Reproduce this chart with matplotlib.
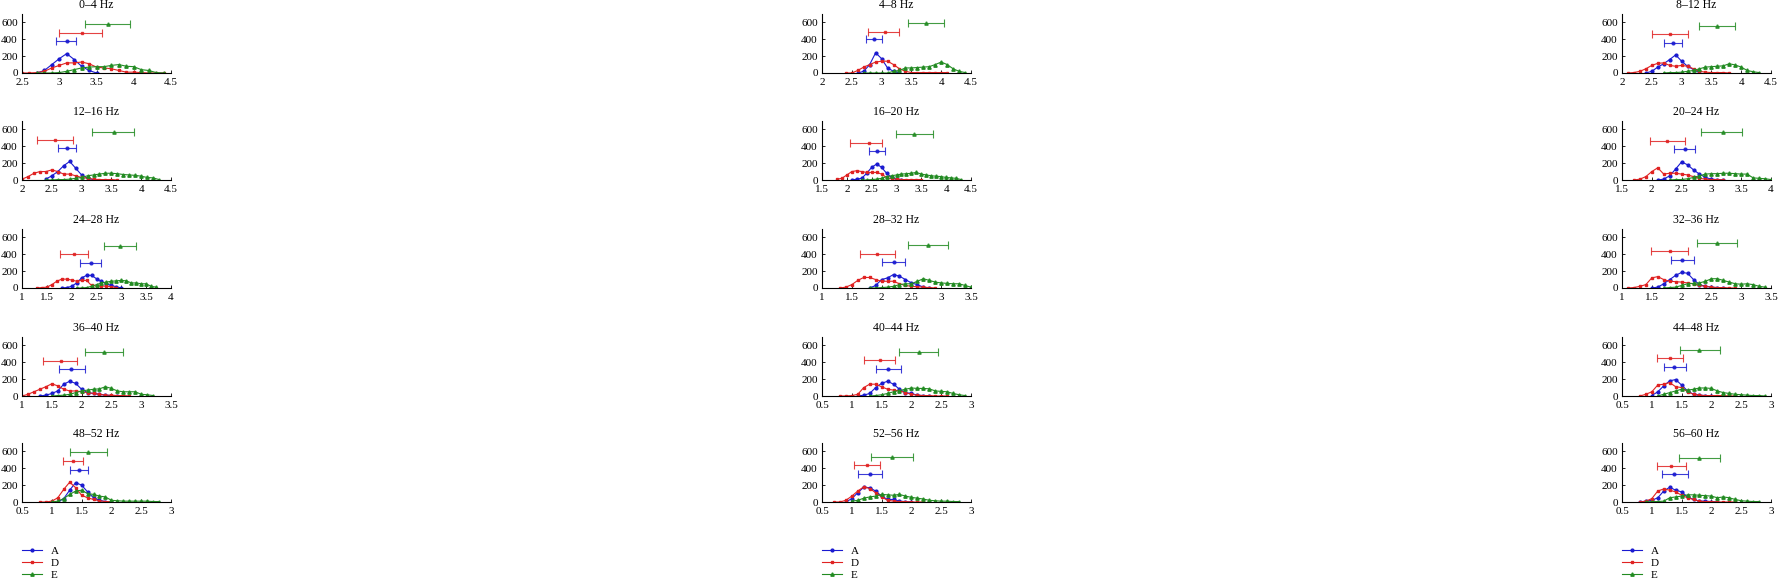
import numpy as np
from matplotlib import pyplot as plt

plt.rcParams['font.family'] = ['Liberation Serif', 'DejaVu Serif']
plt.rcParams['font.size'] = 8

# titre de chaque panneau (bande de frequence)
titres = ['0–4 Hz', '4–8 Hz', '8–12 Hz', '12–16 Hz', '16–20 Hz', '20–24 Hz',
          '24–28 Hz', '28–32 Hz', '32–36 Hz', '36–40 Hz', '40–44 Hz', '44–48 Hz',
          '48–52 Hz', '52–56 Hz', '56–60 Hz']
bornes_x = [(2.5, 4.5), (2, 4.5), (2, 4.5), (2, 4.5), (1.5, 4.5), (1.5, 4),
            (1, 4), (1, 3.5), (1, 3.5), (1, 3.5), (0.5, 3), (0.5, 3),
            (0.5, 3), (0.5, 3), (0.5, 3)]

# courbes : premier x (pas de 0.1) puis les valeurs
debut_A = [2.7, 2.6, 2.4, 2.4, 2.1, 2.1, 1.8, 1.8, 1.5, 1.3, 1.1, 1.0, 1.1, 0.9, 0.8]
val_A = [
    [0, 30, 100, 170, 230, 160, 80, 30, 0],
    [0, 20, 100, 240, 170, 60, 20, 0],
    [0, 20, 70, 110, 160, 215, 140, 80, 40, 5],
    [10, 50, 100, 170, 220, 140, 60, 20, 5],
    [0, 10, 20, 80, 150, 190, 150, 80, 30, 10, 0],
    [0, 10, 50, 130, 215, 180, 120, 70, 30, 10, 5, 0],
    [0, 5, 20, 60, 120, 150, 150, 110, 80, 50, 30, 15, 0],
    [0, 30, 100, 120, 160, 140, 100, 60, 40, 10, 0],
    [0, 10, 50, 100, 150, 185, 175, 100, 40, 20, 10, 5, 0],
    [0, 10, 30, 60, 140, 175, 150, 80, 40, 30, 20, 10, 5, 0],
    [0, 10, 30, 100, 150, 175, 140, 80, 40, 30, 10, 5, 0],
    [5, 50, 120, 180, 195, 130, 60, 20, 10, 5, 0],
    [0, 40, 140, 230, 200, 120, 50, 20, 5, 0],
    [0, 40, 110, 175, 170, 130, 70, 30, 30, 10, 5, 0],
    [0, 10, 20, 50, 130, 175, 140, 120, 60, 30, 10, 10, 5, 0],
]
debut_D = [2.5, 2.4, 2.1, 2.0, 1.8, 1.7, 1.3, 1.3, 1.1, 1.0, 0.8, 0.8, 0.8, 0.7, 0.8]
val_D = [
    [0, 0, 5, 20, 60, 90, 120, 120, 130, 110, 70, 60, 50, 30, 10, 10, 5, 0, 0, 0],
    [0, 0, 30, 70, 100, 130, 140, 140, 100, 50, 20, 5, 5, 5, 5, 5, 5, 5],
    [0, 5, 20, 50, 90, 115, 120, 90, 80, 90, 80, 50, 20, 10, 5, 5, 5, 0],
    [10, 40, 80, 100, 100, 120, 100, 70, 70, 50, 30, 20, 10, 5, 5, 5, 0],
    [10, 20, 60, 100, 110, 100, 90, 90, 90, 70, 30, 15, 10, 5, 5, 5, 5, 5],
    [0, 10, 40, 100, 145, 70, 80, 80, 70, 60, 40, 20, 10, 5, 5, 0],
    [0, 5, 10, 40, 80, 105, 105, 95, 80, 90, 90, 30, 25, 25, 20, 15, 5],
    [0, 10, 40, 90, 125, 125, 100, 80, 80, 80, 50, 30, 20, 15, 10, 5, 0],
    [0, 5, 20, 40, 120, 135, 100, 80, 75, 70, 60, 50, 30, 20, 10, 5, 5, 0, 0],
    [0, 20, 50, 80, 110, 145, 120, 80, 60, 60, 50, 40, 30, 20, 10, 10, 5, 5, 0],
    [0, 0, 5, 20, 100, 140, 140, 110, 80, 70, 60, 40, 20, 10, 5, 5, 0, 0, 0],
    [0, 20, 50, 130, 140, 160, 110, 100, 50, 20, 10, 5, 5, 5, 5, 0, 0],
    [0, 0, 10, 50, 150, 235, 170, 80, 50, 30, 15, 5, 5],
    [0, 0, 20, 70, 130, 180, 160, 110, 60, 20, 10, 5, 5, 0, 0, 0],
    [0, 10, 40, 130, 155, 140, 120, 80, 50, 30, 10, 5, 5, 0, 0, 0, 0],
]
debut_E = [2.7, 2.7, 2.7, 2.4, 2.3, 2.3, 2.1, 1.8, 1.7, 1.5, 1.3, 1.1, 1.0, 1.0, 0.9]
val_E = [
    [0, 0, 0, 5, 20, 40, 60, 70, 75, 75, 90, 100, 80, 75, 40, 30, 5, 0],
    [0, 0, 0, 0, 0, 20, 30, 60, 60, 65, 70, 75, 100, 130, 100, 50, 20, 5],
    [0, 5, 5, 10, 20, 30, 50, 70, 75, 80, 85, 110, 95, 70, 30, 15, 5],
    [0, 0, 5, 5, 10, 20, 30, 50, 60, 70, 80, 80, 75, 65, 60, 55, 45, 30, 25, 5],
    [0, 0, 5, 10, 20, 40, 50, 60, 70, 75, 80, 90, 70, 60, 50, 45, 40, 30, 25, 20, 5],
    [0, 5, 5, 15, 30, 50, 70, 75, 75, 80, 80, 75, 70, 70, 25, 20, 15, 5],
    [0, 0, 5, 20, 40, 60, 70, 80, 85, 90, 85, 60, 60, 50, 50, 20, 10],
    [0, 0, 5, 10, 20, 40, 50, 50, 80, 110, 90, 70, 60, 55, 50, 50, 30, 10],
    [0, 5, 10, 30, 50, 55, 60, 80, 110, 110, 90, 70, 50, 45, 50, 40, 20, 10],
    [0, 5, 10, 20, 40, 60, 70, 80, 85, 110, 90, 60, 50, 50, 50, 20, 15, 5],
    [0, 5, 15, 30, 50, 65, 80, 95, 90, 90, 85, 60, 55, 50, 30, 15, 5],
    [0, 20, 40, 60, 80, 70, 80, 95, 95, 90, 60, 40, 30, 20, 15, 10, 5, 5, 0],
    [0, 10, 40, 90, 130, 140, 100, 90, 70, 60, 20, 15, 10, 10, 10, 10, 10, 5, 5],
    [10, 20, 45, 60, 70, 90, 85, 80, 90, 70, 55, 45, 35, 20, 15, 10, 10, 5, 5],
    [0, 5, 5, 10, 50, 60, 70, 85, 85, 80, 75, 70, 50, 60, 50, 30, 15, 10, 5, 5],
]

# barres horizontales : (centre, min, max, hauteur)
barre_A = [(3.1, 2.95, 3.23, 380), (2.87, 2.73, 3.0, 400), (2.85, 2.7, 3.0, 360),
           (2.75, 2.6, 2.9, 375), (2.6, 2.45, 2.77, 340), (2.55, 2.38, 2.72, 365),
           (2.38, 2.17, 2.6, 300), (2.2, 2.0, 2.4, 305), (2.0, 1.82, 2.2, 337),
           (1.83, 1.62, 2.05, 322), (1.6, 1.4, 1.82, 318), (1.38, 1.2, 1.57, 343),
           (1.45, 1.3, 1.6, 384), (1.3, 1.1, 1.5, 333), (1.38, 1.17, 1.6, 330)]
barre_D = [(3.3, 3.0, 3.58, 480), (3.05, 2.78, 3.3, 490), (2.8, 2.5, 3.1, 460),
           (2.55, 2.25, 2.85, 470), (2.45, 2.07, 2.7, 440), (2.25, 1.97, 2.55, 467),
           (2.05, 1.76, 2.33, 400), (1.93, 1.63, 2.22, 405), (1.8, 1.48, 2.1, 437),
           (1.65, 1.35, 1.93, 420), (1.48, 1.2, 1.72, 425), (1.3, 1.08, 1.52, 446),
           (1.35, 1.18, 1.53, 485), (1.25, 1.03, 1.47, 434), (1.32, 1.08, 1.57, 425)]
barre_E = [(3.65, 3.35, 3.95, 580), (3.75, 3.45, 4.05, 590), (3.6, 3.3, 3.9, 560),
           (3.55, 3.18, 3.88, 570), (3.35, 2.98, 3.73, 540), (3.2, 2.82, 3.52, 567),
           (2.98, 2.65, 3.3, 502), (2.78, 2.45, 3.12, 505), (2.6, 2.25, 2.93, 536),
           (2.38, 2.05, 2.7, 525), (2.12, 1.8, 2.45, 520), (1.8, 1.48, 2.15, 545),
           (1.6, 1.3, 1.93, 592), (1.68, 1.33, 2.03, 535), (1.8, 1.45, 2.15, 525)]

noms = ['A', 'D', 'E']
couleurs = ['#1a1ad0', '#e02222', '#228b22']
marqueurs = ['o', 's', '^']
tailles = [2.0, 1.6, 2.4]

fig = plt.figure(figsize=(17.78, 5.83), dpi=100)
gauche = [22 / 1778, 822 / 1778, 1622 / 1778]
bas = [(583 - b) / 583 for b in (73, 180, 288, 396, 502)]
larg = 149 / 1778
haut = 59 / 583

axes_bas = []
for i in range(15):
    ligne, col = divmod(i, 3)
    ax = fig.add_axes([gauche[col], bas[ligne], larg, haut])
    series = [(debut_A[i], val_A[i], barre_A[i]),
              (debut_D[i], val_D[i], barre_D[i]),
              (debut_E[i], val_E[i], barre_E[i])]
    for k, (x0, vals, barre) in enumerate(series):
        x = np.round(x0 + 0.1 * np.arange(len(vals)), 2)
        ax.plot(x, vals, color=couleurs[k], marker=marqueurs[k], ms=tailles[k],
                lw=0.8, label=noms[k])
        c, lo, hi, yb = barre
        ax.errorbar(c, yb, xerr=[[c - lo], [hi - c]], fmt=marqueurs[k],
                    color=couleurs[k], ms=tailles[k], elinewidth=0.8,
                    capsize=3, capthick=0.8, alpha=0.85)
    ax.set_xlim(*bornes_x[i])
    ax.set_ylim(0, 700)
    ax.set_yticks([0, 200, 400, 600])
    ax.set_xticks(np.arange(bornes_x[i][0], bornes_x[i][1] + 0.01, 0.5))
    ax.set_xticklabels(['%g' % v for v in ax.get_xticks()])
    ax.spines['top'].set_visible(False)
    ax.spines['right'].set_visible(False)
    ax.tick_params(direction='in', length=2, width=0.6)
    ax.tick_params(axis='x', pad=3.5)
    ax.tick_params(axis='y', pad=3)
    ax.set_title(titres[i], fontsize=8.5, pad=4)
    if ligne == 4:
        axes_bas.append(ax)

for col in range(3):
    h, l = axes_bas[col].get_legend_handles_labels()
    fig.legend(h[:3], l[:3], loc='upper left',
               bbox_to_anchor=(gauche[col], (583 - 546.5) / 583),
               frameon=False, handlelength=1.8, handletextpad=0.8,
               labelspacing=0.2, borderpad=0, borderaxespad=0, fontsize=8)

fig.savefig('out.png', dpi=100)
